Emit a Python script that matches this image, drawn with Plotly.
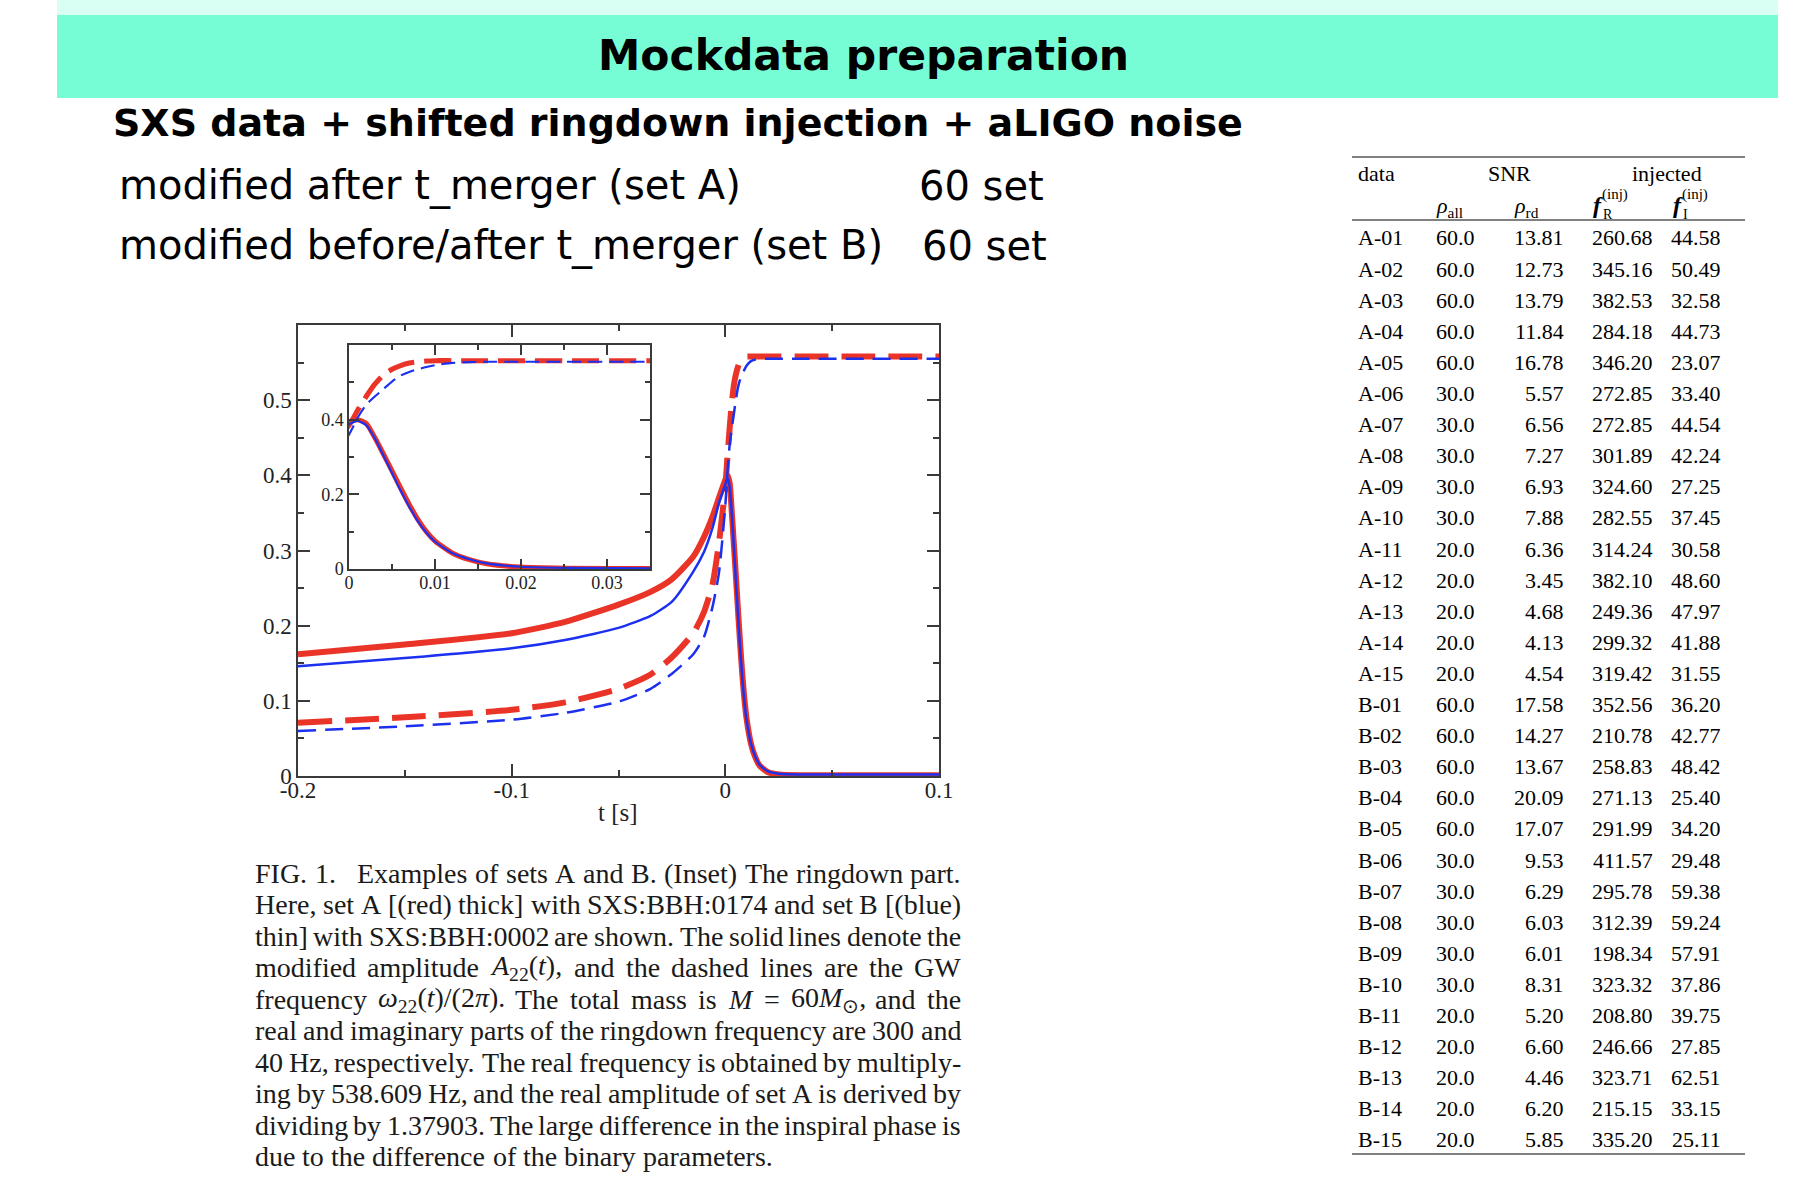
import re
import plotly.graph_objects as go

# ---------------- data ----------------
t = [-0.2, -0.15, -0.1, -0.075, -0.05, -0.035, -0.025, -0.015, -0.01, -0.006, -0.003, 0.0,
     0.001, 0.002, 0.003, 0.004, 0.005, 0.006, 0.007, 0.008, 0.009, 0.010,
     0.012, 0.014, 0.016, 0.020, 0.025, 0.035, 0.1]

ampA = [0.162, 0.175, 0.190, 0.205, 0.228, 0.245, 0.262, 0.292, 0.318, 0.345, 0.370, 0.394,
        0.400, 0.390, 0.352, 0.308, 0.263, 0.217, 0.173, 0.133, 0.100, 0.075,
        0.043, 0.025, 0.014, 0.005, 0.002, 0.001, 0.001]
ampB = [0.146, 0.157, 0.170, 0.181, 0.197, 0.213, 0.232, 0.272, 0.298, 0.330, 0.363, 0.388,
        0.397, 0.385, 0.350, 0.304, 0.257, 0.210, 0.167, 0.128, 0.097, 0.073,
        0.043, 0.026, 0.015, 0.006, 0.003, 0.002, 0.002]
freqA = [0.071, 0.078, 0.088, 0.098, 0.116, 0.135, 0.158, 0.190, 0.218, 0.255, 0.310, 0.385,
         0.425, 0.462, 0.495, 0.520, 0.535, 0.545, 0.552, 0.555, 0.557, 0.558,
         0.558, 0.558, 0.558, 0.558, 0.558, 0.558, 0.558]
freqB = [0.060, 0.066, 0.075, 0.084, 0.099, 0.116, 0.136, 0.162, 0.185, 0.225, 0.270, 0.360,
         0.405, 0.440, 0.462, 0.482, 0.502, 0.518, 0.528, 0.535, 0.541, 0.546,
         0.552, 0.554, 0.555, 0.555, 0.555, 0.555, 0.555]

main_xticks = [-0.2, -0.1, 0.0, 0.1]
main_xticklabels = ["-0.2", "-0.1", "0", "0.1"]
main_yticks = [0, 0.1, 0.2, 0.3, 0.4, 0.5]
main_yticklabels = ["0", "0.1", "0.2", "0.3", "0.4", "0.5"]
inset_xticks = [0, 0.01, 0.02, 0.03]
inset_xticklabels = ["0", "0.01", "0.02", "0.03"]
inset_yticks = [0, 0.2, 0.4]
inset_yticklabels = ["0", "0.2", "0.4"]

tbl_data = ["A-01", "A-02", "A-03", "A-04", "A-05", "A-06", "A-07", "A-08", "A-09", "A-10",
            "A-11", "A-12", "A-13", "A-14", "A-15",
            "B-01", "B-02", "B-03", "B-04", "B-05", "B-06", "B-07", "B-08", "B-09", "B-10",
            "B-11", "B-12", "B-13", "B-14", "B-15"]
tbl_rho_all = ["60.0"] * 5 + ["30.0"] * 5 + ["20.0"] * 5 + ["60.0"] * 5 + ["30.0"] * 5 + ["20.0"] * 5
tbl_rho_rd = ["13.81", "12.73", "13.79", "11.84", "16.78", "5.57", "6.56", "7.27", "6.93", "7.88",
              "6.36", "3.45", "4.68", "4.13", "4.54",
              "17.58", "14.27", "13.67", "20.09", "17.07", "9.53", "6.29", "6.03", "6.01", "8.31",
              "5.20", "6.60", "4.46", "6.20", "5.85"]
tbl_fR = ["260.68", "345.16", "382.53", "284.18", "346.20", "272.85", "272.85", "301.89", "324.60", "282.55",
          "314.24", "382.10", "249.36", "299.32", "319.42",
          "352.56", "210.78", "258.83", "271.13", "291.99", "411.57", "295.78", "312.39", "198.34", "323.32",
          "208.80", "246.66", "323.71", "215.15", "335.20"]
tbl_fI = ["44.58", "50.49", "32.58", "44.73", "23.07", "33.40", "44.54", "42.24", "27.25", "37.45",
          "30.58", "48.60", "47.97", "41.88", "31.55",
          "36.20", "42.77", "48.42", "25.40", "34.20", "29.48", "59.38", "59.24", "57.91", "37.86",
          "39.75", "27.85", "62.51", "33.15", "25.11"]

caption_lines = [
    "FIG. 1.\u00a0\u00a0 Examples of sets A and B. (Inset) The ringdown part.",
    "Here, set A [(red) thick] with SXS:BBH:0174 and set B [(blue)",
    "thin] with SXS:BBH:0002 are shown. The solid lines denote the",
    "modified amplitude <i>A</i><sub>22</sub>(<i>t</i>), and the dashed lines are the GW",
    "frequency <i>ω</i><sub>22</sub>(<i>t</i>)/(2<i>π</i>). The total mass is <i>M</i> = 60<i>M</i><sub>⊙</sub>, and the",
    "real and imaginary parts of the ringdown frequency are 300 and",
    "40 Hz, respectively. The real frequency is obtained by multiply-",
    "ing by 538.609 Hz, and the real amplitude of set A is derived by",
    "dividing by 1.37903. The large difference in the inspiral phase is",
    "due to the difference of the binary parameters.",
]

# ---------------- layout helpers ----------------
W, H = 1793, 1189
def X(px):
    return px / W
def Y(py):
    return 1 - py / H

RED = "rgb(234,52,40)"
BLUE = "rgb(28,48,240)"
AX = "#3a3a3a"
SERIF = "Liberation Serif, Times New Roman, serif"
SANS = "DejaVu Sans, sans-serif"

fig = go.Figure()

series = [
    (ampA, RED, 6, "solid"),
    (freqA, RED, 6, "34px,13px"),
    (ampB, BLUE, 2.5, "solid"),
    (freqB, BLUE, 2.5, "18px,9px"),
]
for xa, ya, scale in [("x", "y", 1.0), ("x2", "y2", 0.85)]:
    for vals, col, w, dash in series:
        d = dash
        if dash != "solid" and scale != 1.0:
            parts = [float(p.replace("px", "")) for p in dash.split(",")]
            d = ",".join(f"{p*0.8:.0f}px" for p in parts)
        fig.add_trace(go.Scatter(
            x=t, y=vals, mode="lines", xaxis=xa, yaxis=ya,
            line=dict(color=col, width=w * scale, dash=d, shape="spline", smoothing=0.6),
            showlegend=False, hoverinfo="skip"))

axis_common = dict(showgrid=False, zeroline=False, showline=True, linecolor=AX, linewidth=1.5,
                   mirror="ticks", ticks="inside", tickcolor=AX, tickwidth=1.5, automargin=False)

fig.update_layout(
    width=W, height=H, autosize=False, showlegend=False,
    margin=dict(l=0, r=0, t=0, b=0, pad=0, autoexpand=False),
    paper_bgcolor="white", plot_bgcolor="white",
    xaxis=dict(domain=[X(298), X(939)], range=[-0.2, 0.1], anchor="y",
               tickvals=main_xticks, ticktext=main_xticklabels, ticklen=12, ticklabelstandoff=-7,
               tickfont=dict(family=SERIF, size=23, color="#222"),
               minor=dict(tickvals=[-0.15, -0.05, 0.05], ticklen=6, ticks="inside",
                          tickcolor=AX, tickwidth=1.5),
               **axis_common),
    yaxis=dict(domain=[Y(776), Y(325)], range=[0, 0.6], anchor="x",
               tickvals=main_yticks, ticktext=main_yticklabels, ticklen=12,
               tickfont=dict(family=SERIF, size=23, color="#222"),
               minor=dict(tickvals=[0.05, 0.15, 0.25, 0.35, 0.45, 0.55], ticklen=6, ticks="inside",
                          tickcolor=AX, tickwidth=1.5),
               **axis_common),
    xaxis2=dict(domain=[X(349), X(650)], range=[0, 0.035], anchor="y2",
                tickvals=inset_xticks, ticktext=inset_xticklabels, ticklen=10, ticklabelstandoff=-3,
                tickfont=dict(family=SERIF, size=18, color="#222"),
                minor=dict(tickvals=[0.005, 0.015, 0.025], ticklen=5, ticks="inside",
                           tickcolor=AX, tickwidth=1.5),
                **axis_common),
    yaxis2=dict(domain=[Y(569), Y(345)], range=[0, 0.6], anchor="x2",
                tickvals=inset_yticks, ticktext=inset_yticklabels, ticklen=10,
                tickfont=dict(family=SERIF, size=18, color="#222"),
                minor=dict(tickvals=[0.1, 0.3, 0.5], ticklen=5, ticks="inside",
                           tickcolor=AX, tickwidth=1.5),
                **axis_common),
)

shapes = []
shapes.append(dict(type="rect", xref="paper", yref="paper", x0=X(57), x1=X(1778), y0=Y(15), y1=Y(0),
                   fillcolor="#D9FEF3", line=dict(width=0), layer="below"))
shapes.append(dict(type="rect", xref="paper", yref="paper", x0=X(57), x1=X(1778), y0=Y(98), y1=Y(15),
                   fillcolor="#76FDD6", line=dict(width=0), layer="below"))
for ry in [157, 220, 1154]:
    shapes.append(dict(type="line", xref="paper", yref="paper", x0=X(1352), x1=X(1745), y0=Y(ry), y1=Y(ry),
                       line=dict(color="#808080", width=2)))
fig.update_layout(shapes=shapes)

ann = []
def text(px, py, s, size, family, xanchor="left", color="black", bold=False):
    ann.append(dict(x=X(px), y=Y(py), xref="paper", yref="paper", text=(f"<b>{s}</b>" if bold else s),
                    showarrow=False, xanchor=xanchor, yanchor="middle", borderpad=0,
                    font=dict(size=size, family=family, color=color)))

text(863, 56, "Mockdata preparation", 42.5, SANS, xanchor="center", bold=True)
text(112, 123, "SXS data + shifted ringdown injection + aLIGO noise", 38, SANS, bold=True)
text(118, 186, "modified after t_merger (set A)", 40, SANS)
text(918, 186, "60 set", 40, SANS)
text(118, 246, "modified before/after t_merger (set B)", 40, SANS)
text(921, 246, "60 set", 40, SANS)

text(618, 812, "t [s]", 25, SERIF, xanchor="center", color="#222")

# ---- caption, justified using Times-compatible advance widths ----
TW = {' ': 250, '\u00a0': 250, '!': 333, '(': 333, ')': 333, '+': 564, ',': 250, '-': 333, '.': 250,
      '/': 278, ':': 278, ';': 278, '=': 564, '?': 444, '[': 333, ']': 333,
      'A': 722, 'B': 667, 'C': 667, 'D': 722, 'E': 611, 'F': 556, 'G': 722, 'H': 722, 'I': 333,
      'J': 389, 'K': 722, 'L': 611, 'M': 889, 'N': 722, 'O': 722, 'P': 556, 'Q': 722, 'R': 667,
      'S': 556, 'T': 611, 'U': 722, 'V': 722, 'W': 944, 'X': 722, 'Y': 722, 'Z': 611,
      'a': 444, 'b': 500, 'c': 444, 'd': 500, 'e': 444, 'f': 333, 'g': 500, 'h': 500, 'i': 278,
      'j': 278, 'k': 500, 'l': 278, 'm': 778, 'n': 500, 'o': 500, 'p': 500, 'q': 500, 'r': 333,
      's': 389, 't': 278, 'u': 500, 'v': 500, 'w': 722, 'x': 500, 'y': 500, 'z': 444,
      'ω': 667, 'π': 500, '⊙': 700}

def token_width(tok, size):
    w = 0.0
    scale = 1.0
    for part in re.split(r"(<[^>]+>)", tok):
        if part.startswith("<"):
            if part == "<sub>":
                scale = 0.7
            elif part == "</sub>":
                scale = 1.0
            continue
        for ch in part:
            w += TW.get(ch, 500) * scale
    return w * size / 1000.0

CAP_SIZE = 28
CAP_L, CAP_R = 254, 960
for i, line in enumerate(caption_lines):
    py = 873 + 31.5 * i
    words = line.split(" ")
    widths = [token_width(wd, CAP_SIZE) for wd in words]
    if i == len(caption_lines) - 1:
        gap = token_width(" ", CAP_SIZE)
    else:
        gap = (CAP_R - CAP_L - sum(widths)) / (len(words) - 1)
    xpos = CAP_L
    for wd, ww in zip(words, widths):
        text(xpos, py, wd, CAP_SIZE, SERIF, color="#1a1a1a")
        xpos += ww + gap

# ---- table ----
TF = 22
TC = "#000"
text(1357, 173, "data", TF, SERIF, color=TC)
text(1509, 173, "SNR", TF, SERIF, xanchor="center", color=TC)
text(1667, 173, "injected", TF, SERIF, xanchor="center", color=TC)
text(1435, 207, "<i>ρ</i><sub>all</sub>", TF, SERIF, color=TC)
text(1513, 207, "<i>ρ</i><sub>rd</sub>", TF, SERIF, color=TC)
text(1592, 205, "<b><i>f</i></b>", 24, SERIF, color=TC)
text(1602, 215, "R", 14, SERIF, color=TC)
text(1601, 194, "(inj)", 15, SERIF, color=TC)
text(1672, 205, "<b><i>f</i></b>", 24, SERIF, color=TC)
text(1682, 215, "I", 14, SERIF, color=TC)
text(1681, 194, "(inj)", 15, SERIF, color=TC)

for i in range(len(tbl_data)):
    ry = 238 + 31.1 * i
    text(1357, ry, tbl_data[i], TF, SERIF, color=TC)
    text(1476, ry, tbl_rho_all[i], TF, SERIF, xanchor="right", color=TC)
    text(1565, ry, tbl_rho_rd[i], TF, SERIF, xanchor="right", color=TC)
    text(1654, ry, tbl_fR[i], TF, SERIF, xanchor="right", color=TC)
    text(1722, ry, tbl_fI[i], TF, SERIF, xanchor="right", color=TC)

fig.update_layout(annotations=ann)
fig.write_html("out.html")
